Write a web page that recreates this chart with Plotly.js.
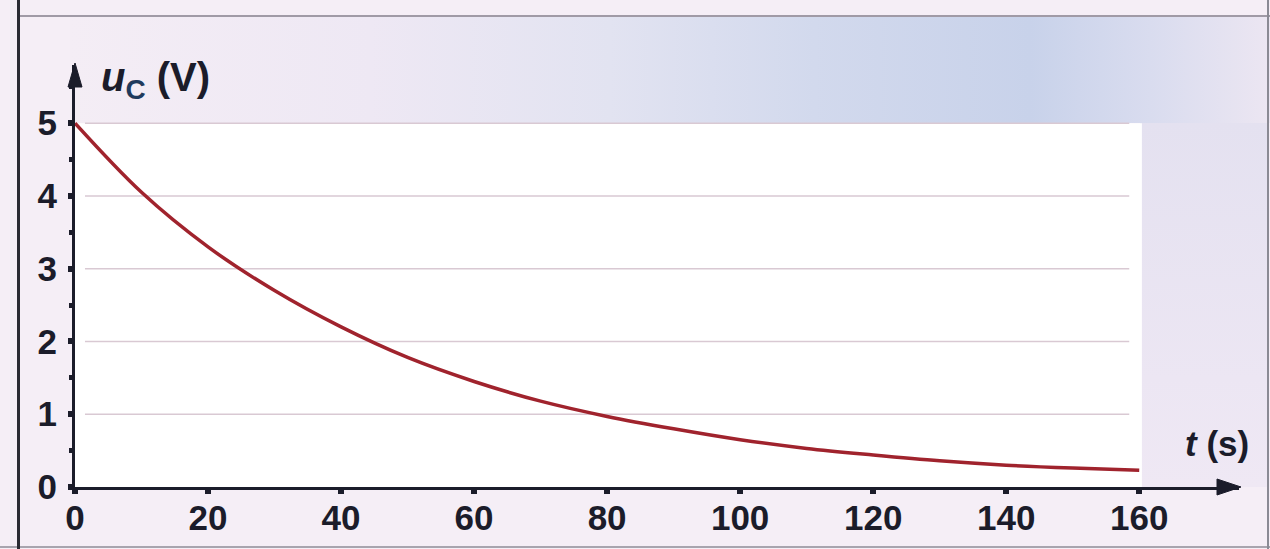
<!DOCTYPE html>
<html>
<head>
<meta charset="utf-8">
<script src="https://cdn.plot.ly/plotly-3.0.1.min.js"></script>
<style>
  html, body { margin:0; padding:0; background:#f6f0f6; }
  #chart {
    width:1270px; height:549px;
    background:
      linear-gradient(#2a2a33,#2a2a33) 17px 0 / 3px 100% no-repeat,
      linear-gradient(#8a8a94,#8a8a94) 1267px 0 / 2px 100% no-repeat,
      linear-gradient(#a8a4ae,#a8a4ae) 0 546px / 100% 2px no-repeat,
      linear-gradient(#a09aa6,#a09aa6) 18px 15px / 100% 2px no-repeat,
      linear-gradient(to right, #f4edf5 0%, #eee8f4 25%, #e2e3f1 45%, #d2d9ed 62%, #c8d2ea 80%, #d9dcef 90%, #ece6f2 100%) 70px 17px / 1200px 106px no-repeat,
      linear-gradient(to bottom, #e4e1f0, #ece6f3 70%, #efe8f4) 1140px 123px / 127px 364px no-repeat,
      #f5eef6;
  }
</style>
</head>
<body>
<div id="chart"></div>
<script>
// Data
var tSec = [0, 10, 20, 30, 40, 50, 60, 70, 80, 90, 100, 110, 120, 130, 140, 150, 160];
var uC   = [5.0, 4.05, 3.3, 2.7, 2.2, 1.78, 1.45, 1.18, 0.97, 0.80, 0.65, 0.53, 0.44, 0.36, 0.30, 0.26, 0.23];
var xTicks = [0, 20, 40, 60, 80, 100, 120, 140, 160];
var yTicks = [0, 1, 2, 3, 4, 5];

var ink = '#1b1c2a';
var tickFont = {family: 'Liberation Sans, Arial, sans-serif', size: 35, color: ink, weight: 'bold'};

var xMax = xTicks[xTicks.length - 1];
var yMax = yTicks[yTicks.length - 1];
var xEnd = 175, yEnd = 5.8;

var shapes = [{
  type: 'rect', xref: 'x', yref: 'y', x0: 0, x1: xMax + 0.4, y0: 0, y1: yMax,
  fillcolor: '#ffffff', line: {width: 0}, layer: 'below'
}];
yTicks.forEach(function (v) {
  if (v > 0) {
    shapes.push({
      type: 'line', xref: 'x', yref: 'y', x0: 1.5, x1: xMax - 1.5, y0: v, y1: v,
      line: {color: '#d9c9d3', width: 1.6}, layer: 'below'
    });
  }
});
// arrowheads at the ends of the axes (pixel-sized paths, paper-anchored so they are not clipped)
shapes.push({
  type: 'path', xref: 'paper', yref: 'paper', xsizemode: 'pixel', ysizemode: 'pixel',
  xanchor: 1, yanchor: 0, path: 'M -22 -8 L 2 0 L -22 8 Z',
  fillcolor: ink, line: {color: ink, width: 1}, layer: 'above'
});
shapes.push({
  type: 'path', xref: 'paper', yref: 'paper', xsizemode: 'pixel', ysizemode: 'pixel',
  xanchor: 0, yanchor: 1, path: 'M -7 -22 L 0 2 L 7 -22 Z',
  fillcolor: ink, line: {color: ink, width: 1}, layer: 'above'
});

var trace = {
  x: tSec, y: uC, type: 'scatter', mode: 'lines',
  line: {shape: 'spline', color: '#a0232d', width: 3.5},
  hoverinfo: 'skip', cliponaxis: false
};

var layout = {
  width: 1270, height: 549,
  margin: {l: 75, r: 31, t: 65, b: 62, pad: 0},
  paper_bgcolor: 'rgba(0,0,0,0)',
  plot_bgcolor: 'rgba(0,0,0,0)',
  showlegend: false,
  xaxis: {
    range: [0, xEnd], tickvals: xTicks, ticktext: xTicks.map(String),
    ticks: 'outside', ticklen: 4, tickwidth: 6, tickcolor: ink,
    showline: true, linewidth: 3, linecolor: ink,
    showgrid: false, zeroline: false, tickfont: tickFont,
    ticklabelstandoff: -6, fixedrange: true
  },
  yaxis: {
    range: [0, yEnd], tickvals: yTicks, ticktext: yTicks.map(String),
    ticks: 'outside', ticklen: 4, tickwidth: 6, tickcolor: ink,
    minor: {dtick: 0.5, ticks: 'outside', ticklen: 3, tickwidth: 5, tickcolor: ink, showgrid: false},
    showline: true, linewidth: 3, linecolor: ink,
    showgrid: false, zeroline: false, tickfont: tickFont,
    ticklabelstandoff: 4, fixedrange: true
  },
  shapes: shapes,
  annotations: [
    {x: 3.6, y: 5.6, xref: 'x', yref: 'y', xanchor: 'left', yanchor: 'middle', showarrow: false,
     text: '<b><i>u</i><sub><span style="color:#1f3a5c">C</span></sub> (V)</b>',
     font: {family: 'Liberation Sans, Arial, sans-serif', size: 40, color: ink}},
    {x: 166.6, y: 0.6, xref: 'x', yref: 'y', xanchor: 'left', yanchor: 'middle', showarrow: false,
     text: '<b><i>t</i> (s)</b>',
     font: {family: 'Liberation Sans, Arial, sans-serif', size: 35, color: ink}}
  ]
};

Plotly.newPlot('chart', [trace], layout, {displayModeBar: false, staticPlot: true});
</script>
</body>
</html>
